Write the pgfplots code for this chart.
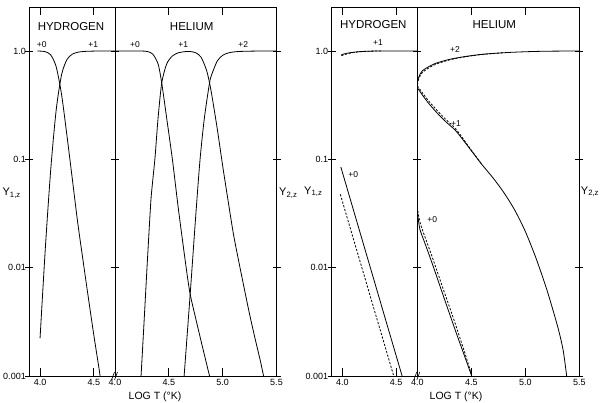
\documentclass[border=0pt]{standalone}
\usepackage{fontspec}
\setmainfont{Liberation Sans}
\usepackage{pgfplots}
\pgfplotsset{compat=1.18}

\pgfplotsset{
  panel/.style={
    scale only axis, height=368.5pt,
    ymin=0.001, ymax=2.52,
    ytick={0.001,0.01,0.1,1},
    yminorticks=false,
    axis line style={line width=0.7pt},
    tick align=inside,
    major tick length=8pt,
    every tick/.style={black, line width=0.7pt},
    tick label style={font=\fontsize{9}{10}\selectfont},
    cycle list={{black}},
    every axis plot post/.append style={line width=0.8pt, black, no markers, smooth, tension=0.45},
  },
  dsh/.style={dash pattern=on 2.2pt off 1.6pt},
}

\begin{document}
\begin{tikzpicture}
\path[use as bounding box] (0,0) rectangle (600pt,403pt);

% ---------------- left panel: hydrogen ----------------
\begin{axis}[panel, ymode=log, width=86pt, xmin=3.9, xmax=4.7,
    xtick={4.0,4.5}, xticklabels={4.0,4.5},
    ytick pos=left, yticklabels={0.001,0.01,0.1,1.0}, ytick style={xshift=-4pt},
    at={(29.3pt,27pt)}, anchor=south west]
  % H +0
  \addplot coordinates {(3.975,0.9995) (4.00,0.9978) (4.05,0.9844) (4.10,0.9182)
    (4.15,0.7153) (4.20,0.3978) (4.25,0.1663) (4.30,0.0661) (4.35,0.02621)
    (4.40,0.01161) (4.45,0.00522) (4.50,0.002393) (4.55,0.001147) (4.558,0.0010)};
  % H +1
  \addplot coordinates {(4.00,0.00223) (4.05,0.0156) (4.10,0.0818) (4.15,0.2847)
    (4.20,0.6022) (4.25,0.8337) (4.30,0.9339) (4.35,0.9738) (4.40,0.9884)
    (4.45,0.9948) (4.50,0.9976) (4.55,0.9989) (4.60,0.9995) (4.70,0.9999)};
\end{axis}

% ---------------- left panel: helium ----------------
\begin{axis}[panel, ymode=log, width=161.5pt, xmin=4.0, xmax=5.5,
    xtick={4.0,4.5,5.0,5.5}, xticklabels={4.0,4.5,5.0,5.5},
    ytick pos=left, yticklabels={}, ytick style={xshift=-4pt},
    at={(115pt,27pt)}, anchor=south west]
  % He +0
  \addplot coordinates {(4.00,1.0) (4.10,1.0) (4.20,0.9995) (4.25,0.9986) (4.30,0.9892)
    (4.35,0.9376) (4.40,0.7603) (4.434,0.5070) (4.48,0.2399) (4.533,0.1)
    (4.589,0.03467) (4.661,0.01) (4.698,0.005702) (4.75,0.003388)
    (4.80,0.002089) (4.878,0.001)};
  % He +1
  \addplot coordinates {(4.242,0.001) (4.27,0.003162) (4.30,0.01122) (4.332,0.03981)
    (4.35,0.0631) (4.372,0.1047) (4.40,0.2399) (4.434,0.507) (4.48,0.7586)
    (4.533,0.8995) (4.589,0.9638) (4.62,0.9772) (4.651,0.9863) (4.70,0.9881)
    (4.75,0.9627) (4.80,0.8750) (4.85,0.6653) (4.878,0.507) (4.90,0.3873)
    (4.95,0.1905) (5.00,0.0871) (5.05,0.04169) (5.10,0.02042) (5.15,0.01135)
    (5.20,0.006457) (5.25,0.003715) (5.30,0.002239) (5.35,0.00138) (5.38,0.001)};
  % He +2
  \addplot coordinates {(4.642,0.001) (4.70,0.006026) (4.75,0.0302) (4.79,0.1)
    (4.83,0.2399) (4.878,0.507) (4.90,0.6124) (4.95,0.8091) (5.00,0.912)
    (5.05,0.9583) (5.10,0.9795) (5.15,0.9886) (5.20,0.9936) (5.30,0.9977) (5.50,1.0)};
\end{axis}
% right-hand ticks of the left panel
\begin{axis}[panel, ymode=log, width=161.5pt, xmin=4.0, xmax=5.5,
    xtick=\empty, ytick pos=right, yticklabels={}, ytick style={xshift=4pt},
    at={(115pt,27pt)}, anchor=south west]
\end{axis}

% ---------------- right panel: hydrogen ----------------
\begin{axis}[panel, ymode=log, width=86pt, xmin=3.9, xmax=4.7,
    xtick={4.0,4.5}, xticklabels={4.0,4.5},
    ytick pos=left, yticklabels={0.001,0.01,0.1,1.0}, ytick style={xshift=-4pt},
    at={(331.7pt,27pt)}, anchor=south west]
  % H +1
  \addplot coordinates {(3.99,0.925) (4.02,0.942) (4.05,0.956) (4.10,0.973)
    (4.15,0.985) (4.20,0.992) (4.25,0.996) (4.30,0.998) (4.40,0.9995) (4.70,1.0)};
  \addplot[dsh] coordinates {(3.99,0.905) (4.02,0.927) (4.05,0.945) (4.10,0.967)
    (4.15,0.981) (4.20,0.990) (4.25,0.995) (4.30,0.998) (4.36,0.9995)};
  % H +0
  \addplot coordinates {(3.985,0.0849) (4.10,0.03467) (4.20,0.01589) (4.30,0.007295)
    (4.40,0.003342) (4.50,0.001535) (4.555,0.001)};
  \addplot[dsh] coordinates {(3.98,0.04753) (4.10,0.0187) (4.20,0.00861)
    (4.30,0.003954) (4.40,0.00182) (4.477,0.001)};
\end{axis}

% ---------------- right panel: helium ----------------
\begin{axis}[panel, ymode=log, width=162pt, xmin=4.0, xmax=5.5,
    xtick={4.0,4.5,5.0,5.5}, xticklabels={4.0,4.5,5.0,5.5},
    ytick pos=left, yticklabels={}, ytick style={xshift=-4pt},
    at={(417.3pt,27pt)}, anchor=south west]
  % He +2
  \addplot coordinates {(4.000,0.509) (4.010,0.562) (4.025,0.6095) (4.05,0.6607)
    (4.10,0.7112) (4.15,0.7551) (4.20,0.7870) (4.30,0.8375) (4.40,0.8750)
    (4.50,0.9057) (4.61,0.9333) (4.80,0.9638) (5.00,0.9840) (5.20,0.9954) (5.50,1.0)};
  \addplot[dsh] coordinates {(4.000,0.4898) (4.010,0.5395) (4.025,0.5861) (4.05,0.6383)
    (4.10,0.6918) (4.15,0.7379) (4.20,0.7727) (4.30,0.8279) (4.40,0.8690)
    (4.50,0.9016) (4.61,0.9311) (4.80,0.9638)};
  % He +1
  \addplot coordinates {(4.00,0.4581) (4.05,0.3890) (4.10,0.3334) (4.15,0.2917)
    (4.20,0.2570) (4.25,0.2291) (4.30,0.2065) (4.35,0.1862) (4.40,0.1622)
    (4.45,0.1396) (4.50,0.1202) (4.60,0.08913) (4.70,0.06761) (4.80,0.04955)
    (4.90,0.03428) (5.00,0.02163) (5.10,0.01216) (5.20,0.006237)
    (5.30,0.002851) (5.35,0.001738) (5.383,0.001)};
  \addplot[dsh] coordinates {(4.00,0.4786) (4.05,0.4074) (4.10,0.3508) (4.15,0.3076)
    (4.20,0.2710) (4.25,0.2410) (4.30,0.2163) (4.35,0.1936) (4.40,0.1675)
    (4.45,0.1426) (4.50,0.1216) (4.60,0.08913)};
  % He +0
  \addplot coordinates {(4.000,0.03311) (4.01,0.02754) (4.025,0.02239) (4.05,0.01905)
    (4.087,0.01514) (4.148,0.01023) (4.241,0.005495) (4.349,0.002692)
    (4.457,0.001349) (4.504,0.001)};
  \addplot[dsh] coordinates {(4.000,0.03631) (4.01,0.0309) (4.025,0.0263) (4.05,0.02188)
    (4.087,0.01738) (4.148,0.01175) (4.241,0.00631) (4.349,0.00309)
    (4.457,0.001445) (4.505,0.001)};
\end{axis}
% right-hand ticks of the right panel
\begin{axis}[panel, ymode=log, width=162pt, xmin=4.0, xmax=5.5,
    xtick=\empty, ytick pos=right, yticklabels={}, ytick style={xshift=4pt},
    at={(417.3pt,27pt)}, anchor=south west]
\end{axis}

% axis breaks
\foreach \bx in {115,417.3}{
  \draw[line width=0.6pt] (\bx pt-3.5pt,23pt) -- (\bx pt-0.5pt,31pt);
  \draw[line width=0.6pt] (\bx pt-0.5pt,23pt) -- (\bx pt+2.5pt,31pt);
}

% titles, labels
\begin{scope}[font=\fontsize{11.5}{12}\selectfont]
  \node at (71pt,376.3pt) {HYDROGEN};
  \node at (191.7pt,376.3pt) {HELIUM};
  \node at (373.3pt,378pt) {HYDROGEN};
  \node at (494.3pt,378pt) {HELIUM};
\end{scope}
\begin{scope}[font=\fontsize{8.5}{9}\selectfont]
  \node at (41.7pt,358.7pt) {+0};
  \node at (93.3pt,358.7pt) {+1};
  \node at (135pt,358.7pt) {+0};
  \node at (183.3pt,358.7pt) {+1};
  \node at (243.3pt,358.7pt) {+2};
  \node at (378pt,360.3pt) {+1};
  \node at (353.3pt,228pt) {+0};
  \node at (455pt,353.7pt) {+2};
  \node at (456pt,279.7pt) {+1};
  \node at (432.3pt,183.7pt) {+0};
\end{scope}
\begin{scope}[font=\fontsize{11}{12}\selectfont]
  \node at (11.7pt,209.7pt) {Y\textsubscript{1,z}};
  \node at (288.3pt,209.7pt) {Y\textsubscript{2,z}};
  \node at (313.3pt,211.3pt) {Y\textsubscript{1,z}};
  \node at (590pt,211.3pt) {Y\textsubscript{2,z}};
\end{scope}
\begin{scope}[font=\fontsize{10.5}{12}\selectfont]
  \node at (155pt,6pt) {LOG T (°K)};
  \node at (456pt,6.3pt) {LOG T (°K)};
\end{scope}
\end{tikzpicture}
\end{document}
